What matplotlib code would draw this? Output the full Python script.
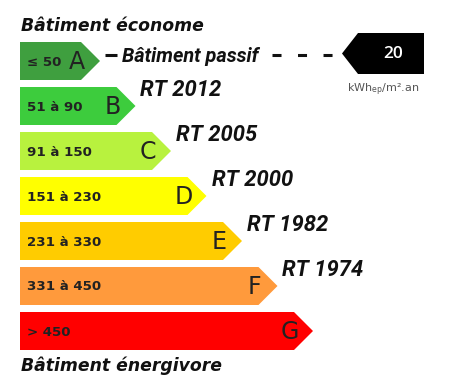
import matplotlib.pyplot as plt
from matplotlib.patches import Polygon

classes = ['A', 'B', 'C', 'D', 'E', 'F', 'G']
ranges = ['≤ 50', '51 à 90', '91 à 150', '151 à 230', '231 à 330', '331 à 450', '> 450']
colors = ['#3f9f3f', '#3dcc3d', '#b8f23e', '#ffff00', '#ffcc00', '#ff9a3c', '#ff0000']
rt_labels = ['RT 2012', 'RT 2005', 'RT 2000', 'RT 1982', 'RT 1974']  # next to B..F
passive_label = 'Bâtiment passif'
passive_value = 20
unit = 'kWh$_{\\rm ep}$/m².an'
top_title = 'Bâtiment économe'
bottom_title = 'Bâtiment énergivore'

fig = plt.figure(figsize=(4.54, 3.89), dpi=100)
ax = fig.add_axes([0, 0, 1, 1])
ax.set_xlim(0, 454)
ax.set_ylim(389, 0)
ax.axis('off')

x0 = 20
h = 38
step = 45
depth = 19

for i, (c, r, col) in enumerate(zip(classes, ranges, colors)):
    top = 42 + step * i
    tip = 100 + 35.5 * i
    body = tip - depth
    poly = Polygon([(x0, top), (body, top), (tip, top + h / 2), (body, top + h), (x0, top + h)],
                   closed=True, facecolor=col, edgecolor='none')
    ax.add_patch(poly)
    ax.text(x0 + 7, top + h / 2 + 1, r, fontsize=9.6, fontweight='bold', color='#222222',
            va='center', ha='left', family='DejaVu Sans')
    ax.text(tip - 23, top + h / 2 + 1, c, fontsize=17, color='#222222',
            va='center', ha='center', family='DejaVu Sans')
    if 1 <= i <= 5:
        ax.text(tip + 5, top + 9, rt_labels[i - 1], fontsize=15.8, fontweight='bold',
                fontstyle='italic', color='#111111', va='baseline', ha='left',
                family='Roboto')

ax.text(21, 26, top_title, fontsize=12.4, fontweight='bold', fontstyle='italic',
        color='#111111', va='center', ha='left', family='DejaVu Sans')
ax.text(21, 366, bottom_title, fontsize=12.4, fontweight='bold', fontstyle='italic',
        color='#111111', va='center', ha='left', family='DejaVu Sans')

# passive building marker
ax.plot([105, 117], [55, 55], color='#111111', lw=2.2, solid_capstyle='butt')
ax.text(122, 62, passive_label, fontsize=14.3, fontweight='bold', fontstyle='italic',
        color='#111111', va='baseline', ha='left', family='Roboto')
ax.plot([272, 340], [55, 55], color='#111111', lw=2.2, dashes=(2.95, 5.4), dash_capstyle='butt')
ax.add_patch(Polygon([(424, 33), (358, 33), (342, 53.5), (358, 74), (424, 74)],
                     closed=True, facecolor='black', edgecolor='none'))
ax.text(393, 54, str(passive_value), fontsize=12.5, fontweight='semibold', color='white',
        va='center', ha='center', family='Open Sans')
ax.text(383, 90, unit, fontsize=8, color='#555555', va='center', ha='center',
        family='DejaVu Sans')

fig.savefig('out.png', dpi=100)
